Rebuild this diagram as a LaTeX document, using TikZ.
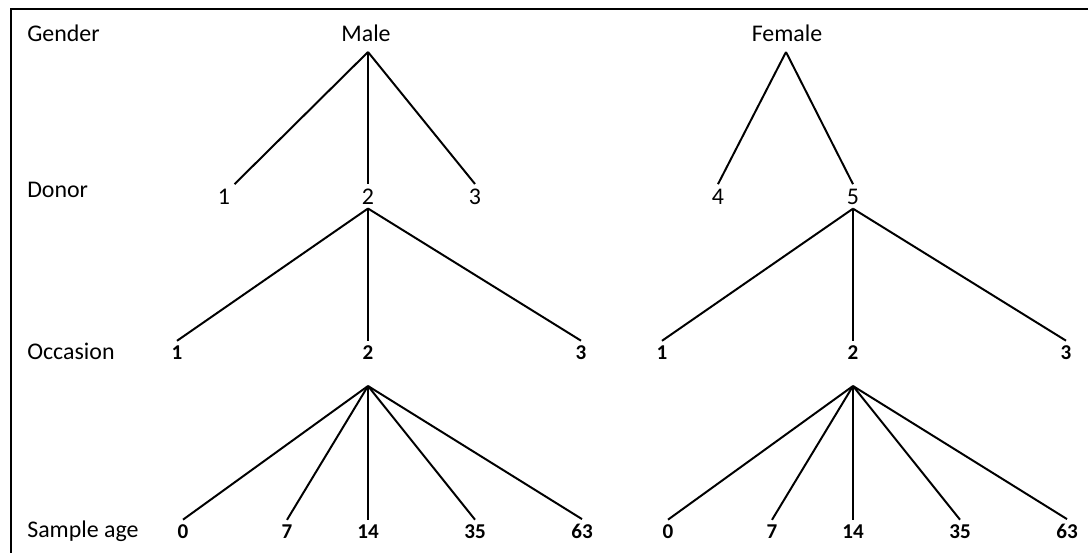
\documentclass[tikz,border=0pt]{standalone}
\usepackage{fontspec}
\setmainfont{Carlito}
\usetikzlibrary{positioning}
\tikzset{
  rowlab/.style={anchor=base west,inner sep=0pt,font=\fontsize{17}{20}\selectfont},
  topnode/.style={anchor=base,inner sep=3pt,font=\fontsize{17}{20}\selectfont},
  donnode/.style={anchor=base,inner sep=3pt,font=\fontsize{17}{20}\selectfont},
  numnode/.style={anchor=base,inner sep=3pt,font=\fontsize{15}{18}\selectfont\bfseries},
  branch/.style={line width=1.4pt,draw=black,line join=miter},
  boxline/.style={line width=1.4pt,draw=black}
}

\begin{document}
\begin{tikzpicture}[x=0.025cm,y=-0.025cm]
    \path[use as bounding box] (0,0) rectangle (1088,553);
    \draw[boxline] (11,553) -- (11,9) -- (1088,9);

    % level names
    \node[rowlab] (gender) at (27,41) {Gender};
    \node[rowlab] (donor) at (27,197) {Donor};
    \node[rowlab] (occasion) at (27,359) {Occasion};
    \node[rowlab] (sampleage) at (27,537) {Sample age};

    % gender and donors
    \node[topnode] (male) at (366,41) {Male};
    \node[topnode] (female) at (787,41) {Female};
    \coordinate (male-top) at (368,52);
    \coordinate (female-top) at (786,52);
    \foreach \n/\x in {1/224,2/368,3/475,4/718,5/853}
      \node[donnode] (d\n) at (\x,204) {\n};

    \foreach \d in {d1.north east,d2.north,d3.north}
      \draw[branch] (male-top) -- (\d);
    \foreach \d in {d4.north,d5.north}
      \draw[branch] (female-top) -- (\d);

    % occasions and sample ages, same for both subtrees
    \foreach \s/\dx/\p in {m/0/d2,f/485/d5}{
      \foreach \n/\x in {1/177,2/368,3/581}{
        \node[numnode] (\s-o\n) at (\x+\dx,359) {\n};
        \draw[branch] (\p.south) -- (\s-o\n.north);
      }
      \coordinate (\s-fan) at (368+\dx,386);
      \foreach \n/\x in {0/183,7/287,14/368,35/475,63/582}{
        \node[numnode] (\s-a\n) at (\x+\dx,538) {\n};
        \draw[branch] (\s-fan) -- (\s-a\n.north);
      }
    }
\end{tikzpicture}
\end{document}
